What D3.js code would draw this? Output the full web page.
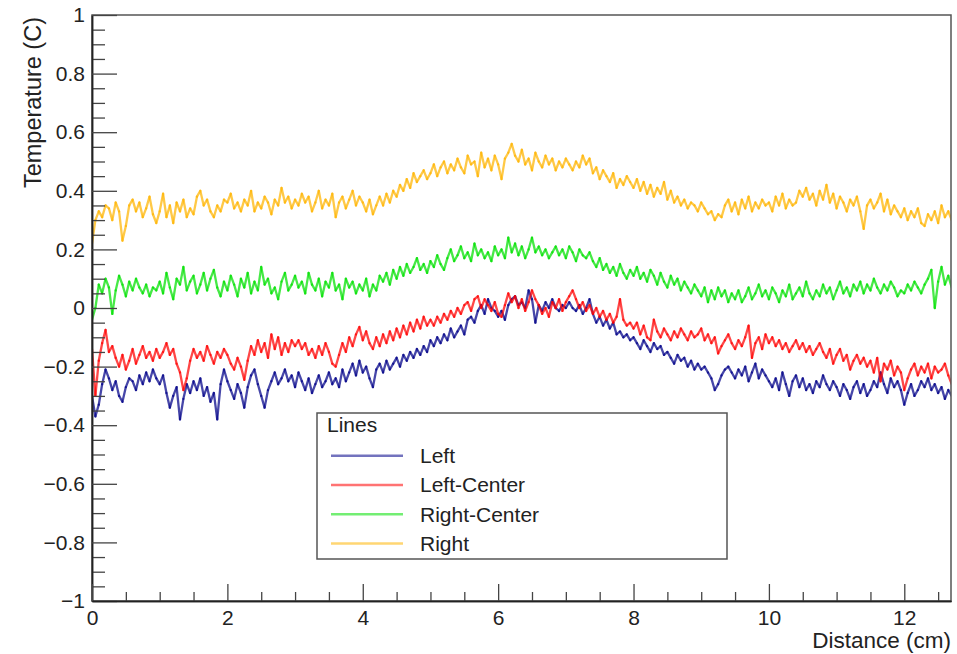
<!DOCTYPE html>
<html>
<head>
<meta charset="utf-8">
<script src="https://cdn.jsdelivr.net/npm/d3@7"></script>
<style>
  html, body { margin: 0; padding: 0; background: #fff; }
  svg { display: block; font-family: "Liberation Sans", Arial, Helvetica, sans-serif; }
</style>
</head>
<body>
<svg id="chart" width="957" height="654"></svg>
<script>
// ---------------- data ----------------
const distanceStart = 0;      // cm
const distanceStep = 0.05;    // cm between samples

const seriesNames = ["Left", "Left-Center", "Right-Center", "Right"];
const seriesColors = ["#000088", "#ff0000", "#00e000", "#ffb400"];

const leftValues = [
  -0.30,-0.37,-0.33,-0.26,-0.21,-0.24,-0.28,-0.25,-0.30,-0.32,-0.27,-0.24,-0.25,-0.28,-0.23,-0.26,-0.22,-0.25,-0.21,-0.24,
  -0.26,-0.23,-0.29,-0.34,-0.30,-0.27,-0.38,-0.31,-0.26,-0.29,-0.25,-0.28,-0.24,-0.30,-0.27,-0.32,-0.29,-0.38,-0.26,-0.21,
  -0.25,-0.28,-0.31,-0.26,-0.29,-0.34,-0.27,-0.23,-0.21,-0.26,-0.30,-0.34,-0.28,-0.25,-0.22,-0.26,-0.24,-0.21,-0.25,-0.23,
  -0.27,-0.22,-0.25,-0.28,-0.24,-0.29,-0.26,-0.23,-0.27,-0.25,-0.22,-0.26,-0.24,-0.27,-0.21,-0.25,-0.22,-0.19,-0.23,-0.18,
  -0.22,-0.20,-0.24,-0.27,-0.21,-0.19,-0.22,-0.18,-0.21,-0.19,-0.17,-0.20,-0.16,-0.18,-0.15,-0.17,-0.14,-0.16,-0.13,-0.15,
  -0.11,-0.13,-0.10,-0.12,-0.09,-0.11,-0.07,-0.10,-0.08,-0.06,-0.09,-0.04,-0.03,-0.05,-0.01,0.01,-0.02,0.03,0.00,-0.01,
  -0.03,-0.01,-0.04,0.01,0.03,0.04,0.01,0.02,0.00,0.06,0.03,-0.05,0.01,-0.01,0.02,0.00,0.03,0.00,-0.01,0.01,
  0.00,0.02,0.00,-0.01,0.01,-0.02,0.00,0.03,-0.02,-0.05,-0.03,-0.06,-0.04,-0.07,-0.05,-0.09,-0.08,-0.10,-0.09,-0.11,
  -0.10,-0.12,-0.14,-0.11,-0.13,-0.15,-0.12,-0.14,-0.13,-0.16,-0.15,-0.17,-0.19,-0.16,-0.18,-0.17,-0.20,-0.18,-0.21,-0.19,
  -0.21,-0.20,-0.22,-0.24,-0.28,-0.26,-0.23,-0.21,-0.20,-0.22,-0.24,-0.21,-0.23,-0.20,-0.25,-0.22,-0.19,-0.24,-0.21,-0.23,
  -0.25,-0.27,-0.24,-0.28,-0.22,-0.26,-0.30,-0.25,-0.23,-0.27,-0.24,-0.28,-0.26,-0.29,-0.25,-0.27,-0.23,-0.26,-0.28,-0.25,
  -0.27,-0.30,-0.26,-0.28,-0.31,-0.27,-0.25,-0.29,-0.26,-0.30,-0.28,-0.25,-0.27,-0.22,-0.26,-0.29,-0.24,-0.27,-0.25,-0.28,
  -0.33,-0.29,-0.26,-0.30,-0.28,-0.25,-0.27,-0.24,-0.28,-0.26,-0.29,-0.27,-0.31,-0.28,-0.30
];

const leftCenterValues = [
  -0.14,-0.30,-0.18,-0.12,-0.075,-0.15,-0.13,-0.17,-0.20,-0.16,-0.21,-0.18,-0.14,-0.19,-0.16,-0.13,-0.17,-0.15,-0.18,-0.14,
  -0.17,-0.15,-0.12,-0.16,-0.14,-0.19,-0.22,-0.28,-0.24,-0.18,-0.14,-0.17,-0.15,-0.18,-0.13,-0.16,-0.19,-0.15,-0.17,-0.14,
  -0.16,-0.19,-0.21,-0.17,-0.20,-0.245,-0.18,-0.13,-0.16,-0.11,-0.15,-0.12,-0.17,-0.09,-0.14,-0.10,-0.16,-0.12,-0.15,-0.11,
  -0.13,-0.11,-0.14,-0.12,-0.16,-0.14,-0.17,-0.13,-0.16,-0.12,-0.15,-0.19,-0.20,-0.16,-0.12,-0.15,-0.10,-0.13,-0.09,-0.065,
  -0.11,-0.08,-0.12,-0.14,-0.10,-0.13,-0.09,-0.12,-0.08,-0.11,-0.07,-0.10,-0.06,-0.09,-0.05,-0.08,-0.04,-0.07,-0.03,-0.06,
  -0.04,-0.06,-0.03,-0.05,-0.02,-0.04,-0.01,-0.03,0.00,-0.02,0.01,0.02,-0.01,0.03,0.04,0.00,0.03,0.01,-0.01,0.02,
  -0.02,-0.03,0.01,0.05,0.02,0.04,0.00,0.03,-0.01,0.02,0.06,0.03,0.01,-0.02,0.00,-0.03,0.02,0.00,0.03,-0.01,
  0.02,0.04,0.06,0.03,0.00,0.02,-0.01,0.01,-0.02,0.00,-0.03,-0.01,-0.04,-0.02,-0.05,-0.03,0.03,-0.04,-0.06,-0.05,
  -0.07,-0.05,-0.09,-0.06,-0.10,-0.11,-0.04,-0.08,-0.10,-0.07,-0.09,-0.11,-0.08,-0.10,-0.07,-0.09,-0.11,-0.08,-0.10,-0.09,
  -0.07,-0.11,-0.09,-0.12,-0.10,-0.155,-0.13,-0.11,-0.09,-0.12,-0.14,-0.11,-0.13,-0.10,-0.06,-0.17,-0.12,-0.10,-0.14,-0.09,
  -0.12,-0.10,-0.13,-0.11,-0.14,-0.12,-0.15,-0.13,-0.11,-0.14,-0.12,-0.15,-0.13,-0.16,-0.14,-0.12,-0.15,-0.17,-0.14,-0.19,
  -0.16,-0.14,-0.18,-0.16,-0.21,-0.18,-0.16,-0.19,-0.17,-0.20,-0.18,-0.22,-0.17,-0.25,-0.19,-0.21,-0.18,-0.23,-0.20,-0.22,
  -0.28,-0.24,-0.21,-0.19,-0.23,-0.20,-0.22,-0.19,-0.24,-0.20,-0.22,-0.21,-0.19,-0.23,-0.26
];

const rightCenterValues = [
  -0.04,0.00,0.08,0.05,0.10,0.07,-0.02,0.06,0.11,0.08,0.04,0.09,0.06,0.10,0.07,0.05,0.08,0.04,0.07,0.06,
  0.09,0.05,0.12,0.07,0.03,0.10,0.08,0.14,0.06,0.09,0.11,0.05,0.08,0.12,0.06,0.10,0.13,0.07,0.04,0.09,
  0.06,0.11,0.08,0.04,0.10,0.07,0.12,0.05,0.09,0.06,0.14,0.08,0.10,0.05,0.07,0.03,0.09,0.12,0.06,0.08,
  0.11,0.07,0.09,0.05,0.12,0.08,0.06,0.10,0.04,0.09,0.07,0.12,0.06,0.08,0.03,0.10,0.07,0.09,0.05,0.08,
  0.06,0.10,0.04,0.08,0.06,0.11,0.09,0.12,0.08,0.13,0.10,0.14,0.11,0.15,0.12,0.14,0.17,0.13,0.15,0.12,
  0.16,0.14,0.18,0.15,0.13,0.17,0.20,0.16,0.18,0.21,0.17,0.19,0.16,0.22,0.18,0.20,0.17,0.19,0.16,0.21,
  0.18,0.20,0.17,0.24,0.19,0.22,0.18,0.21,0.17,0.20,0.24,0.19,0.21,0.18,0.20,0.17,0.19,0.21,0.18,0.20,
  0.17,0.21,0.19,0.16,0.20,0.18,0.17,0.19,0.16,0.14,0.17,0.13,0.15,0.12,0.14,0.11,0.15,0.12,0.10,0.13,
  0.11,0.14,0.10,0.12,0.09,0.13,0.11,0.08,0.12,0.09,0.07,0.11,0.08,0.10,0.06,0.09,0.07,0.05,0.08,0.06,
  0.04,0.07,0.02,0.06,0.03,0.07,0.04,0.06,0.02,0.05,0.03,0.06,0.02,0.04,0.07,0.03,0.05,0.08,0.04,0.06,
  0.03,0.07,0.05,0.02,0.06,0.04,0.08,0.03,0.05,0.07,0.04,0.09,0.05,0.03,0.06,0.04,0.08,0.05,0.07,0.03,
  0.06,0.09,0.05,0.07,0.04,0.08,0.06,0.09,0.05,0.08,0.06,0.10,0.07,0.05,0.08,0.06,0.09,0.07,0.04,0.06,
  0.05,0.08,0.06,0.09,0.07,0.05,0.08,0.10,0.13,0.00,0.09,0.14,0.08,0.11,0.07
];

const rightValues = [
  0.22,0.30,0.33,0.31,0.35,0.34,0.30,0.36,0.33,0.23,0.28,0.35,0.37,0.33,0.36,0.31,0.34,0.38,0.32,0.29,
  0.33,0.39,0.31,0.35,0.29,0.36,0.33,0.37,0.31,0.34,0.32,0.38,0.40,0.35,0.37,0.33,0.31,0.35,0.33,0.37,
  0.36,0.39,0.34,0.36,0.33,0.37,0.35,0.40,0.33,0.36,0.34,0.38,0.36,0.32,0.37,0.35,0.41,0.36,0.38,0.34,
  0.37,0.35,0.39,0.36,0.38,0.33,0.36,0.40,0.34,0.37,0.35,0.39,0.31,0.36,0.38,0.34,0.37,0.40,0.35,0.38,
  0.36,0.33,0.37,0.32,0.35,0.38,0.35,0.39,0.36,0.40,0.38,0.42,0.40,0.44,0.41,0.46,0.43,0.45,0.47,0.44,
  0.46,0.49,0.45,0.48,0.50,0.46,0.49,0.47,0.51,0.48,0.46,0.52,0.49,0.50,0.45,0.53,0.48,0.51,0.47,0.52,
  0.49,0.44,0.51,0.53,0.56,0.52,0.50,0.54,0.49,0.51,0.47,0.53,0.50,0.48,0.52,0.49,0.51,0.47,0.50,0.48,
  0.51,0.49,0.47,0.50,0.48,0.52,0.49,0.51,0.46,0.48,0.44,0.47,0.45,0.43,0.46,0.41,0.44,0.42,0.45,0.43,
  0.41,0.44,0.40,0.43,0.39,0.42,0.38,0.41,0.39,0.43,0.37,0.40,0.36,0.38,0.35,0.37,0.34,0.36,0.35,0.33,
  0.36,0.34,0.32,0.33,0.30,0.32,0.31,0.35,0.37,0.33,0.36,0.32,0.37,0.34,0.38,0.33,0.36,0.34,0.37,0.35,
  0.36,0.33,0.38,0.35,0.39,0.34,0.37,0.35,0.36,0.40,0.38,0.41,0.37,0.39,0.35,0.40,0.37,0.42,0.36,0.39,
  0.34,0.38,0.36,0.33,0.37,0.35,0.38,0.33,0.27,0.35,0.37,0.34,0.36,0.39,0.33,0.37,0.32,0.35,0.33,0.31,
  0.34,0.30,0.33,0.31,0.34,0.29,0.28,0.32,0.30,0.33,0.29,0.35,0.31,0.33,0.30
];

const xMajorTicks = [0, 2, 4, 6, 8, 10, 12];
const yMajorTicks = [-1, -0.8, -0.6, -0.4, -0.2, 0, 0.2, 0.4, 0.6, 0.8, 1];

const xTitle = "Distance (cm)";
const yTitle = "Temperature (C)";
const legendTitle = "Lines";

// ---------------- layout ----------------
const svg = d3.select("#chart");
const plot = { left: 92, right: 951, top: 15, bottom: 601 };

const x = d3.scaleLinear().domain([0, 12.69]).range([plot.left, plot.right]);
const y = d3.scaleLinear().domain([-1, 1]).range([plot.bottom, plot.top]);

const allSeries = [leftValues, leftCenterValues, rightCenterValues, rightValues].map((vals, i) => ({
  name: seriesNames[i],
  color: seriesColors[i],
  points: vals.map((v, j) => [distanceStart + j * distanceStep, v])
}));

const fmt = v => d3.format("~g")(Math.round(v * 100) / 100);

// minor tick values (x: every 0.5, y: every 0.05)
const xMinor = d3.range(0, 26).map(i => i * 0.5).filter(v => v <= 12.69 && v % 2 !== 0);
const yMinor = d3.range(0, 41).map(i => Math.round((-1 + i * 0.05) * 100) / 100)
  .filter(v => Math.abs(Math.round(v * 5) - v * 5) > 1e-6);

// ---------------- data lines (segments with alpha so overlaps darken) ----------------
svg.append("clipPath").attr("id", "clip")
  .append("rect").attr("x", plot.left).attr("y", plot.top)
  .attr("width", plot.right - plot.left).attr("height", plot.bottom - plot.top);

const linesG = svg.append("g").attr("clip-path", "url(#clip)");
allSeries.forEach(s => {
  linesG.append("g")
    .selectAll("line")
    .data(d3.pairs(s.points))
    .join("line")
    .attr("x1", d => x(d[0][0])).attr("y1", d => y(d[0][1]))
    .attr("x2", d => x(d[1][0])).attr("y2", d => y(d[1][1]))
    .attr("stroke", s.color)
    .attr("stroke-opacity", 0.72)
    .attr("stroke-width", 2.3)
    .attr("stroke-linecap", "round");
});

// ---------------- frame ----------------
svg.append("rect")
  .attr("x", plot.left).attr("y", plot.top)
  .attr("width", plot.right - plot.left).attr("height", plot.bottom - plot.top)
  .attr("fill", "none").attr("stroke", "#555").attr("stroke-width", 1.5);

// ---------------- axes ----------------
const axisStyle = g => {
  g.selectAll(".domain").attr("stroke", "#222").attr("stroke-width", 1.5);
  g.selectAll(".tick line").attr("stroke", "#444").attr("stroke-width", 1.3);
  g.selectAll(".tick text").attr("fill", "#222").attr("font-size", 21)
    .attr("font-family", "'Liberation Sans', Arial, Helvetica, sans-serif");
};

// y axis
svg.append("g").attr("transform", `translate(${plot.left},0)`)
  .call(d3.axisLeft(y).tickValues(yMinor).tickSize(-13).tickFormat("").tickSizeOuter(0))
  .call(axisStyle);
svg.append("g").attr("transform", `translate(${plot.left},0)`)
  .call(d3.axisLeft(y).tickValues(yMajorTicks).tickSize(-25).tickPadding(7).tickSizeOuter(0).tickFormat(fmt))
  .call(axisStyle);

// x axis
svg.append("g").attr("transform", `translate(0,${plot.bottom})`)
  .call(d3.axisBottom(x).tickValues(xMinor).tickSize(-9).tickFormat("").tickSizeOuter(0))
  .call(axisStyle);
svg.append("g").attr("transform", `translate(0,${plot.bottom})`)
  .call(d3.axisBottom(x).tickValues(xMajorTicks).tickSize(-17).tickPadding(9).tickSizeOuter(0).tickFormat(fmt))
  .call(axisStyle);

// axis titles
svg.append("text")
  .attr("x", plot.right).attr("y", 648)
  .attr("text-anchor", "end").attr("font-size", 22.5).attr("fill", "#222")
  .text(xTitle);

svg.append("text")
  .attr("transform", `translate(41,${plot.top + 2}) rotate(-90)`)
  .attr("text-anchor", "end").attr("font-size", 23.5).attr("fill", "#222")
  .text(yTitle);

// ---------------- legend ----------------
const legend = { x: 317, y: 413, w: 410, h: 146 };
const lg = svg.append("g");
lg.append("rect")
  .attr("x", legend.x).attr("y", legend.y).attr("width", legend.w).attr("height", legend.h)
  .attr("fill", "#fff").attr("stroke", "#555").attr("stroke-width", 1.5);
lg.append("text")
  .attr("x", legend.x + 10).attr("y", legend.y + 19)
  .attr("font-size", 21).attr("fill", "#222").text(legendTitle);

const entries = lg.selectAll("g.entry").data(allSeries).join("g").attr("class", "entry")
  .attr("transform", (d, i) => `translate(0,${legend.y + 42.7 + i * 29.3})`);
entries.append("line")
  .attr("x1", legend.x + 14).attr("x2", legend.x + 86)
  .attr("y1", 0).attr("y2", 0)
  .attr("stroke", d => d.color).attr("stroke-opacity", 0.55).attr("stroke-width", 2.5);
entries.append("text")
  .attr("x", legend.x + 103).attr("y", 0).attr("dy", "0.35em")
  .attr("font-size", 21).attr("fill", "#222")
  .text(d => d.name);
</script>
</body>
</html>
